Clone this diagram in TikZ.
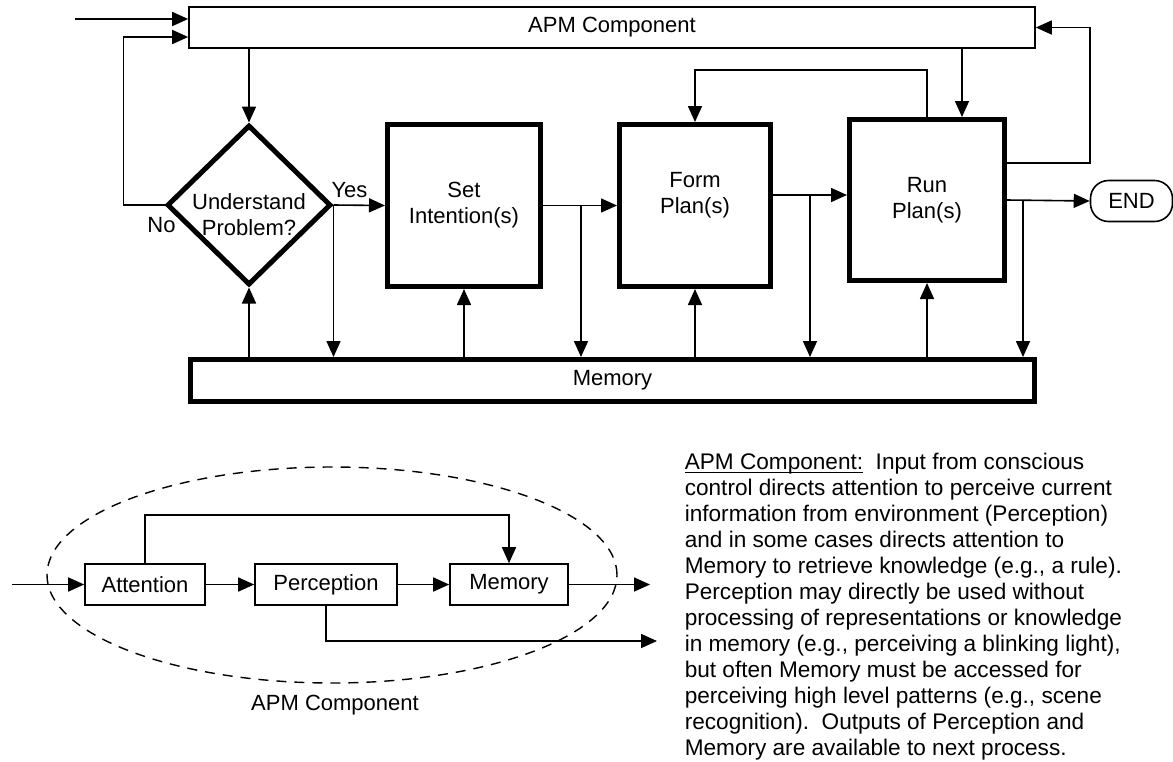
\documentclass[tikz,border=0pt]{standalone}
\usepackage{fontspec}
\setmainfont{Liberation Sans}
\usetikzlibrary{arrows.meta,shapes.geometric}

\begin{document}
\begin{tikzpicture}[->,>={Triangle[length=8pt,width=7pt]},line width=0.8pt,x=0.5pt,y=-0.5pt,
    every node/.style={font=\fontsize{11}{13}\selectfont},
    stage/.style={rectangle,draw=black,line width=2.5pt,align=center,minimum height=81pt},
    part/.style={rectangle,draw=black,line width=0.8pt,minimum height=20.5pt}]
        \useasboundingbox (0,0) rectangle (1173,761);

        % main loop
        \node[part,minimum width=423pt] (apm) at (612,27.5) {APM Component};
        \node[diamond,draw=black,line width=2.5pt,inner sep=0pt,
              minimum width=82pt,minimum height=80pt] (under) at (249,205)
          {\raisebox{-8.75pt}[0pt][0pt]{\begin{tabular}{@{}c@{}}Understand\\Problem?\end{tabular}}};
        \node[stage,minimum width=76.5pt] (setb) at (464,205.5) {Set\\Intention(s)};
        \node[stage,minimum width=75.5pt] (form) at (695,205.5)
          {\raisebox{2.5pt}[0pt][0pt]{\begin{tabular}{@{}c@{}}Form\\Plan(s)\end{tabular}}};
        \node[stage,minimum width=77.5pt,minimum height=80.5pt] (run) at (927,200) {Run\\Plan(s)};
        \node[rectangle,rounded corners=9pt,draw=black,minimum width=41pt,minimum height=20.5pt] (endn) at (1131.5,201) {END};
        \node[rectangle,draw=black,line width=2.5pt,minimum width=422pt,minimum height=21pt] (mem) at (612.5,380.5) {Memory};
        \node (yes) at ([xshift=8pt,yshift=7.5pt]under.east) {Yes};
        \node (no) at ([xshift=-1.5pt,yshift=-10pt]under.west) {No};

        \coordinate (start) at (75,19);
        \draw (start) -- (start -| apm.west);
        \draw (under.west) -- ++(-41,0) |- ([yshift=-4.75pt]apm.west);
        \draw (apm.south -| under.north) -- (under.north);
        \draw (under.east) -- (setb.west);
        \draw (under.east) -- (under.east |- mem.north);
        \draw (mem.north -| under.south) -- (under.south);

        \draw (setb.east) -- (form.west);
        \draw ([xshift=19pt]setb.east) -- ([xshift=19pt]setb.east |- mem.north);
        \draw (mem.north -| setb.south) -- (setb.south);

        \draw ([yshift=5.25pt]form.east) -- ([yshift=5.25pt]form.east -| run.west);
        \draw ([xshift=18.5pt,yshift=5.25pt]form.east) -- ([xshift=18.5pt]form.east |- mem.north);
        \draw (mem.north -| form.south) -- (form.south);

        \draw (run.north) -- ++(0,-47) -| (form.north);
        \draw ([xshift=17.5pt]run.north |- apm.south) -- ([xshift=17.5pt]run.north);
        \draw ([yshift=18.5pt]run.east) -- ++(83,0) |- (apm.east);
        \draw (run.east) -- (endn.west);
        \draw ([xshift=8pt]run.east) -- ([xshift=8pt]run.east |- mem.north);
        \draw (mem.north -| run.south) -- (run.south);

        % inside the APM component
        \draw[-,dash pattern=on 5pt off 4pt,line width=0.7pt] (332,575) ellipse [x radius=142.5pt,y radius=54pt];
        \node[part,minimum width=60pt] (att) at (145,584.5) {Attention};
        \node[part,minimum width=71pt] (perc) at (326,584.5) {Perception};
        \node[part,minimum width=59pt] (smem) at (509,584.5) {Memory};
        \node (cap) at (335,705) {APM Component};
        \coordinate (in2) at (12,584.5);
        \coordinate (outm) at (650,584.5);
        \coordinate (outp) at (657,641);

        \draw (in2) -- (att.west);
        \draw (att) -- (perc);
        \draw (perc) -- (smem);
        \draw (smem.east) -- (outm);
        \draw (att.north) -- ++(0,-48) -| (smem.north);
        \draw (perc.south) |- (outp);

        \node[anchor=north west,align=left,inner sep=0pt,font=\fontsize{11.3}{13}\selectfont] (desc) at (684,452)
          {\underline{\smash{APM Component:}}\ \ Input from conscious\\
           control directs attention to perceive current\\
           information from environment (Perception)\\
           and in some cases directs attention to\\
           Memory to retrieve knowledge (e.g., a rule).\\
           Perception may directly be used without\\
           processing of representations or knowledge\\
           in memory (e.g., perceiving a blinking light),\\
           but often Memory must be accessed for\\
           perceiving high level patterns (e.g., scene\\
           recognition).\ \ Outputs of Perception and\\
           Memory are available to next process.};

\end{tikzpicture}
\end{document}
